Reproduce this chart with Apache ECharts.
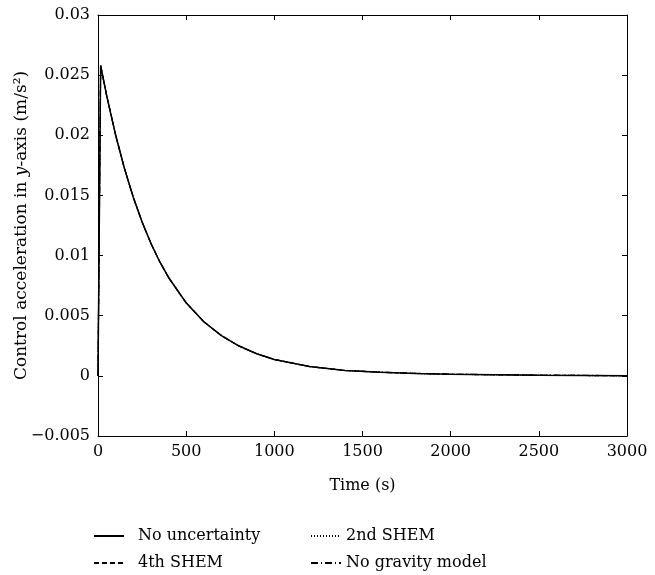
<!DOCTYPE html>
<html>
<head>
<meta charset="utf-8">
<script src="https://cdn.jsdelivr.net/npm/echarts@6/dist/echarts.min.js"></script>
<style>html,body{margin:0;padding:0;background:#fff}#c{width:655px;height:575px}</style>
</head>
<body>
<div id="c"></div>
<script>
var times = [0, 15, 50, 100, 150, 200, 250, 300, 350, 400, 500, 600, 700, 800, 900, 1000, 1200, 1400, 1600, 1800, 2000, 2500, 3000];
var noUncertainty = [0, 0.0258, 0.02324, 0.02002, 0.01724, 0.01485, 0.01279, 0.01102, 0.00949, 0.00818, 0.00607, 0.0045, 0.00334, 0.00248, 0.00184, 0.00136, 0.00077, 0.00045, 0.0003, 0.0002, 0.00013, 0.00005, 0.00001];
var secondSHEM = [0, 0.0258, 0.02324, 0.02002, 0.01724, 0.01485, 0.01279, 0.01102, 0.00949, 0.00818, 0.00607, 0.0045, 0.00334, 0.00248, 0.00184, 0.00136, 0.00077, 0.00045, 0.0003, 0.0002, 0.00013, 0.00005, 0.00001];
var fourthSHEM = [0, 0.0258, 0.02324, 0.02002, 0.01724, 0.01485, 0.01279, 0.01102, 0.00949, 0.00818, 0.00607, 0.0045, 0.00334, 0.00248, 0.00184, 0.00136, 0.00077, 0.00045, 0.0003, 0.0002, 0.00013, 0.00005, 0.00001];
var noGravity = [0, 0.0258, 0.02324, 0.02002, 0.01724, 0.01485, 0.01279, 0.01102, 0.00949, 0.00818, 0.00607, 0.0045, 0.00334, 0.00248, 0.00184, 0.00136, 0.00077, 0.00046, 0.00031, 0.00021, 0.00014, 0.00006, 0.00002];
var xTicks = [0, 500, 1000, 1500, 2000, 2500, 3000];
var yTicks = [-0.005, 0, 0.005, 0.01, 0.015, 0.02, 0.025, 0.03];
var seriesNames = ['No uncertainty', '2nd SHEM', '4th SHEM', 'No gravity model'];

function pairs(vals) { return times.map(function (t, i) { return [t, vals[i]]; }); }
var FONT = 'DejaVu Serif';
var chart = echarts.init(document.getElementById('c'), null, {renderer: 'canvas'});
var axisCommon = {
  axisLine: {show: true, onZero: false, lineStyle: {color: '#000', width: 1}},
  axisTick: {show: true, inside: true, length: 5, lineStyle: {color: '#000'}},
  splitLine: {show: false}
};
function mk(base, extra) { var o = {}; for (var k in base) o[k] = base[k]; for (var k2 in extra) o[k2] = extra[k2]; return o; }
var fmtY = function (v) {
  var r = Math.round(v * 1000) / 1000;
  if (r === 0) return '0';
  var s = String(Math.abs(r));
  return (r < 0 ? '\u2212' : '') + s;
};
var fmtX = function (v) { return String(Math.round(v)); };
var legendCommon = {orient: 'vertical', top: 523, height: 52, itemWidth: 30, itemHeight: 14, itemGap: 11,
  itemStyle: {color: 'transparent', borderWidth: 0, opacity: 0},
  textStyle: {fontFamily: FONT, fontSize: 16, color: '#000'}};
chart.setOption({
  backgroundColor: '#fff',
  animation: false,
  grid: {left: 98, right: 28, top: 15, bottom: 139, containLabel: false, outerBoundsMode: 'none'},
  xAxis: [
    mk(axisCommon, {type: 'value', min: 0, max: 3000, interval: 500, position: 'bottom',
      name: 'Time (s)', nameLocation: 'middle', nameGap: 42, nameMoveOverlap: false,
      nameTextStyle: {fontFamily: FONT, fontSize: 16, color: '#000'},
      axisLabel: {fontFamily: FONT, fontSize: 16, color: '#000', margin: 8, formatter: fmtX}}),
    mk(axisCommon, {type: 'value', min: 0, max: 3000, interval: 500, position: 'top',
      axisLabel: {show: false}})
  ],
  yAxis: [
    mk(axisCommon, {type: 'value', min: -0.005, max: 0.03, interval: 0.005, position: 'left',
      name: '{n|Control acceleration in }{i|y}{n|-axis (m/s\u00B2)}', nameLocation: 'middle', nameGap: 68, nameMoveOverlap: false,
      nameTextStyle: {fontFamily: FONT, fontSize: 17, color: '#000',
        rich: {n: {fontFamily: FONT, fontSize: 17, color: '#000'}, i: {fontFamily: FONT, fontSize: 17, fontStyle: 'italic', color: '#000'}}},
      axisLabel: {fontFamily: FONT, fontSize: 16, color: '#000', margin: 8, formatter: fmtY}}),
    mk(axisCommon, {type: 'value', min: -0.005, max: 0.03, interval: 0.005, position: 'right',
      axisLabel: {show: false}})
  ],
  legend: [
    mk(legendCommon, {data: [seriesNames[0], seriesNames[2]], left: 88,
      textStyle: {fontFamily: FONT, fontSize: 16, color: '#000', padding: [0, 0, 0, 9]}}),
    mk(legendCommon, {data: [seriesNames[1], seriesNames[3]], left: 305})
  ],
  series: [
    {name: seriesNames[0], type: 'line', data: pairs(noUncertainty), showSymbol: false, symbol: 'none',
      lineStyle: {color: '#000', width: 1.5, type: 'solid'}, itemStyle: {color: '#000'}},
    {name: seriesNames[1], type: 'line', data: pairs(secondSHEM), showSymbol: false, symbol: 'none',
      lineStyle: {color: '#000', width: 1.2, type: [1, 2]}, itemStyle: {color: '#000'}},
    {name: seriesNames[2], type: 'line', data: pairs(fourthSHEM), showSymbol: false, symbol: 'none',
      lineStyle: {color: '#000', width: 1.2, type: [5, 3]}, itemStyle: {color: '#000'}},
    {name: seriesNames[3], type: 'line', data: pairs(noGravity), showSymbol: false, symbol: 'none',
      lineStyle: {color: '#000', width: 1.2, type: [7, 3, 1, 3]}, itemStyle: {color: '#000'}}
  ]
});
</script>
</body>
</html>
